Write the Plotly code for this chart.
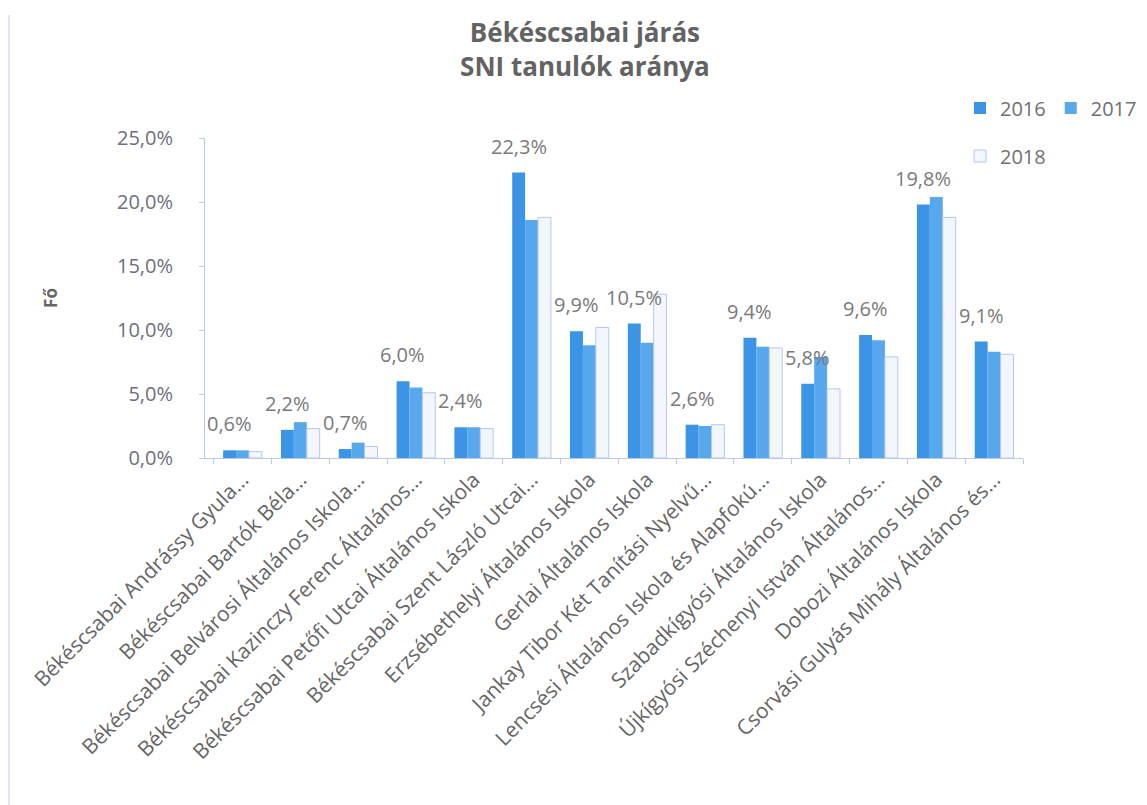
import plotly.graph_objects as go

categories = [
    "Békéscsabai Andrássy Gyula…",
    "Békéscsabai Bartók Béla…",
    "Békéscsabai Belvárosi Általános Iskola…",
    "Békéscsabai Kazinczy Ferenc Általános…",
    "Békéscsabai Petőfi Utcai Általános Iskola",
    "Békéscsabai Szent László Utcai…",
    "Erzsébethelyi Általános Iskola",
    "Gerlai Általános Iskola",
    "Jankay Tibor Két Tanítási Nyelvű…",
    "Lencsési Általános Iskola és Alapfokú…",
    "Szabadkígyósi Általános Iskola",
    "Újkígyósi Széchenyi István Általános…",
    "Dobozi Általános Iskola",
    "Csorvási Gulyás Mihály Általános és…",
]
v2016 = [0.6, 2.2, 0.7, 6.0, 2.4, 22.3, 9.9, 10.5, 2.6, 9.4, 5.8, 9.6, 19.8, 9.1]
v2017 = [0.6, 2.8, 1.2, 5.5, 2.4, 18.6, 8.8, 9.0, 2.5, 8.7, 7.9, 9.2, 20.4, 8.3]
v2018 = [0.5, 2.3, 0.9, 5.1, 2.3, 18.8, 10.2, 12.8, 2.6, 8.6, 5.4, 7.9, 18.8, 8.1]
series_names = ["2016", "2017", "2018"]

FONT = "Open Sans"

# page is offset by the 8px body margin
OFF = 8
L, T, PW, PH = 205 - OFF, 138 - OFF, 818, 320
W, H = 1147, 805

def px_x(sx):
    return (sx - OFF - L) / PW

def px_y(sy):
    return (T + PH - (sy - OFF)) / PH

fig = go.Figure()
fig.add_trace(go.Bar(name=series_names[0], x=categories, y=v2016, legend="legend",
                     marker=dict(color="#3b94e5", line=dict(width=0))))
fig.add_trace(go.Bar(name=series_names[1], x=categories, y=v2017, legend="legend",
                     marker=dict(color="#58a8ee", line=dict(width=0))))
fig.add_trace(go.Bar(name=series_names[2], x=categories, y=v2018, legend="legend2",
                     marker=dict(color="#f3f7fd", line=dict(color="#b4c7ee", width=1))))

annotations = []
for c, v in zip(categories, v2016):
    annotations.append(dict(
        x=c, y=v, xref="x", yref="y", xshift=-13, yshift=11,
        yanchor="bottom", showarrow=False,
        text=f"{v:.1f}".replace(".", ",") + "%",
        font=dict(family=FONT, size=20, color="#7a7a7a"),
    ))

legend_common = dict(
    orientation="h", xanchor="left", yanchor="middle",
    font=dict(family=FONT, size=20, color="#707070"),
    bgcolor="rgba(0,0,0,0)", itemwidth=30,
)

fig.update_layout(
    width=W, height=H, autosize=False,
    paper_bgcolor="white", plot_bgcolor="white",
    margin=dict(l=L, r=W - L - PW, t=T, b=H - T - PH, autoexpand=False),
    separators=", ",
    barmode="group", bargap=0.33, bargroupgap=0,
    title=dict(
        text="<b>Békéscsabai járás<br>SNI tanulók aránya</b>",
        xref="container", yref="container",
        x=0.503, xanchor="center", y=1 - 34 / H, yanchor="top",
        font=dict(family=FONT, size=26, color="#636363"),
    ),
    font=dict(family=FONT, color="#6b6b6b"),
    legend=dict(legend_common, x=px_x(960), y=px_y(108)),
    legend2=dict(legend_common, x=px_x(960), y=px_y(156)),
    annotations=annotations,
    shapes=[dict(type="line", xref="paper", yref="paper",
                 x0=px_x(9), x1=px_x(9),
                 y0=px_y(805), y1=px_y(15),
                 line=dict(color="#d5def3", width=1.5))],
)
fig.update_xaxes(
    type="category", tickangle=-45,
    tickfont=dict(family=FONT, size=21, color="#666666"),
    showline=True, linecolor="#b9c9ee", linewidth=1,
    ticks="outside", ticklen=5, tickcolor="#b9c9ee", tickson="boundaries",
    showgrid=False, automargin=False,
)
fig.update_yaxes(
    range=[0, 25], dtick=5, tickformat=".1f", ticksuffix="%",
    tickfont=dict(family=FONT, size=20, color="#6b6f7e"),
    showline=True, linecolor="#b9c9ee", linewidth=1,
    ticks="outside", ticklen=5, tickcolor="#b9c9ee",
    ticklabelstandoff=22,
    showgrid=False, zeroline=False, automargin=False,
    title=dict(text="<b>Fő</b>", standoff=55,
               font=dict(family=FONT, size=17, color="#666666")),
)

fig.write_html("out.html")
